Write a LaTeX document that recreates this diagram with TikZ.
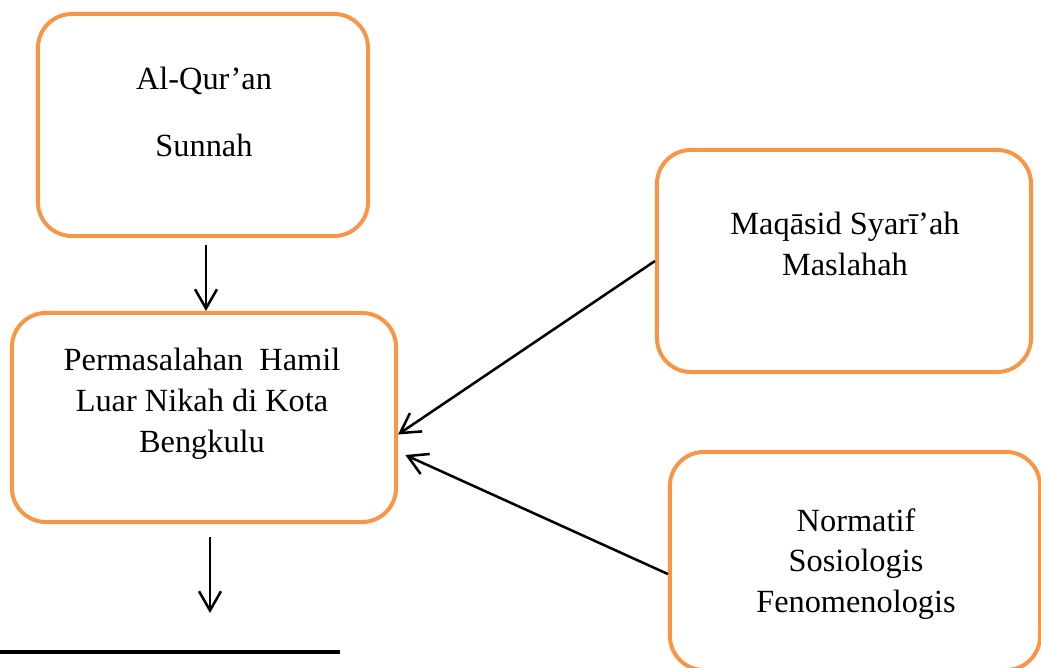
\documentclass[tikz,border=0pt]{standalone}
\usepackage{fontspec}
\setmainfont{Liberation Serif}
\usepackage{tikz}
\usetikzlibrary{arrows.meta}
\definecolor{oranye}{HTML}{F79646}

\tikzset{
  kotak/.style={draw=oranye, line width=0.1cm, rounded corners=0.85cm, fill=white},
  teks/.style={align=center, font=\fontsize{23}{29}\selectfont, inner sep=0pt},
  panah/.style={line width=1.8pt, -{Straight Barb[length=0.48cm,width=0.55cm,line width=1.8pt]}}
}

\begin{document}
\begin{tikzpicture}[x=0.025cm,y=-0.025cm]
\useasboundingbox (0,0) rectangle (1041,668);
%draw [help lines] grid (1041,668);
\node[kotak, minimum width=8.25cm, minimum height=5.55cm] (quran) at (203,125) {};
\node[kotak, minimum width=9.6cm, minimum height=5.225cm] (masalah) at (204,417.5) {};
\node[kotak, minimum width=9.35cm, minimum height=5.55cm] (maqasid) at (844,261) {};
\node[kotak, minimum width=9.25cm, minimum height=5.45cm] (metode) at (855,561) {};

\node[teks] (quranT) at (204,112) {Al-Qur’an\\[19pt]Sunnah};
\node[teks] (masalahT) at (202,404) {Permasalahan\ \ Hamil\\Luar Nikah di Kota\\Bengkulu};
\node[teks] (maqasidT) at (845,244) {Maqāsid Syarī’ah\\Maslahah};
\node[teks] (metodeT) at (856,564) {Normatif\\Sosiologis\\Fenomenologis};

\coordinate (ujung) at (210,613);

\draw[panah, shorten <=0.18cm] (quran.south -| 206,0) -- (masalah.north -| 206,0);
\draw[panah, shorten <=0.32cm] (masalah.south -| ujung) -- (ujung);
\draw[panah] (maqasid.west) -- (masalah.-5);
\draw[panah, shorten >=0.2cm] (metode.-176) -- (masalah.-10);

\draw[line width=0.075cm] (0,652) -- (340,652);

\end{tikzpicture}
\end{document}
